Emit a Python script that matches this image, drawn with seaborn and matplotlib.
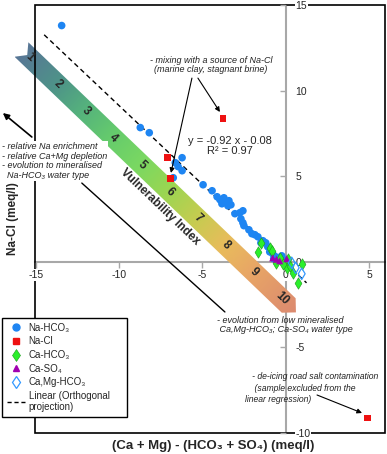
import numpy as np
import matplotlib.pyplot as plt
import seaborn as sns
from matplotlib.colors import LinearSegmentedColormap
from matplotlib.lines import Line2D
from matplotlib.patches import Polygon, Rectangle

# Samples by water type (meq/l)
# x = (Ca + Mg) - (HCO3 + SO4), y = Na - Cl
na_hco3_x = [-13.45, -8.73, -8.19, -6.22, -6.63, -6.46, -6.22, -6.75, -4.96, -4.42,
             -4.12, -3.95, -3.71, -3.59, -3.41, -3.29, -3.83, -3.47, -3.05, -2.75,
             -2.57, -2.69, -2.57, -2.51, -2.21, -2.03, -1.85, -1.67, -1.37, -1.20,
             -1.49, -1.08, -0.96, -0.78, -0.60, -0.42, -0.24, -0.12, -0.72]
na_hco3_y = [13.80, 7.84, 7.54, 6.08, 5.79, 5.56, 5.32, 4.91, 4.50, 4.15,
             3.80, 3.63, 3.74, 3.51, 3.57, 3.33, 3.39, 3.27, 2.81, 2.87,
             2.98, 2.51, 2.28, 2.11, 1.87, 1.64, 1.58, 1.46, 1.23, 1.11,
             1.11, 0.88, 0.58, 0.47, 0.29, 0.18, 0.35, 0.12, 0.18]

na_cl_x = [-3.77, -7.11, -6.93, 4.90]
na_cl_y = [8.36, 6.08, 4.85, -9.12]

ca_hco3_x = [-1.67, -1.49, -0.96, -0.84, -0.60, -0.36, 0.06, 0.24, 0.42, 0.96, 0.72, 0.12, -0.18]
ca_hco3_y = [0.58, 1.11, 0.82, 0.64, -0.06, 0.23, -0.35, -0.23, -0.64, -0.12, -1.23, 0.18, -0.12]

ca_so4_x = [-0.78, -0.36, 0.06, -0.55]
ca_so4_y = [0.23, 0.06, 0.18, 0.15]

camg_hco3_x = [0.96, 0.60, 0.36]
camg_hco3_y = [-0.70, -0.35, -0.06]

# orthogonal regression
fit_slope = -0.92
fit_intercept = -0.08
fit_x = np.array([-14.5, 1.25])
fit_y = fit_slope * fit_x + fit_intercept

# vulnerability index arrow
index_labels = [str(i) for i in range(1, 11)]
index_first = (-15.36, 11.93)   # where "1" sits
index_last = (-0.24, -2.16)     # where "10" sits
index_stops = [0.0, 0.13, 0.23, 0.33, 0.43, 0.53, 0.64, 0.74, 0.84, 1.0]
index_colors = ['#587696', '#4e9488', '#56b47c', '#66cc6c', '#7ad862',
                '#9ad652', '#c6cc50', '#e8bc5c', '#e8a666', '#dc8a70']

sns.set_style('white')
plt.rcParams['font.family'] = ['Liberation Sans', 'DejaVu Sans']
plt.rcParams['axes.unicode_minus'] = False

fig = plt.figure(figsize=(3.87, 4.54), dpi=100)
ax = fig.add_axes([35 / 387, 21 / 454, 350 / 387, 428 / 454])
xlim, ylim = (-15.05, 5.96), (-10, 15)
ax.set_xlim(*xlim)
ax.set_ylim(*ylim)
ax.set_autoscale_on(False)

# axes through the origin, outer black frame
ax.spines['left'].set_position(('data', 0))
ax.spines['right'].set_position(('data', 0))
ax.spines['bottom'].set_position(('data', 0))
ax.spines['top'].set_visible(False)
ax.spines['right'].set_visible(False)
for side in ['left', 'bottom']:
    ax.spines[side].set_color('#a8a8a8')
    ax.spines[side].set_linewidth(1.5)
    ax.spines[side].set_zorder(0.5)
ax.add_patch(Rectangle((0, 0), 1, 1, transform=ax.transAxes, fill=False,
                       edgecolor='black', linewidth=1.2, zorder=1.0, clip_on=False))

ax.set_xticks([-15, -10, -5, 0, 5])
ax.set_yticks([-10, -5, 0, 5, 10, 15])
ax.tick_params(axis='x', bottom=True, direction='out', length=4, width=1,
               color='#a8a8a8', labelsize=7.5, pad=2)
ax.tick_params(axis='y', left=True, right=False, labelleft=False, labelright=True,
               direction='out', length=4, width=1, color='#a8a8a8', labelsize=7.5, pad=3)
ax.xaxis.set_zorder(1.2)
ax.yaxis.set_zorder(1.2)
for lab in ax.xaxis.get_ticklabels() + ax.yaxis.get_ticklabels():
    lab.set_bbox(dict(facecolor='white', edgecolor='none', pad=0.5))


def draw_index_band(ax, p_first, p_last, half_width=10):
    to_px = ax.transData.transform
    to_data = ax.transData.inverted().transform
    a, b = to_px(p_first), to_px(p_last)
    step = (b - a) / 9
    u = step / np.linalg.norm(step)
    n = np.array([-u[1], u[0]])
    tail = a - 0.3 * step
    end = b + 0.25 * step
    tip = end + 10 * u
    notch = tail + 8 * u
    verts_px = np.array([tail + half_width * n, end + half_width * n, tip,
                         end - half_width * n, tail - half_width * n, notch])
    verts = to_data(verts_px)
    x0, y0 = verts.min(axis=0)
    x1, y1 = verts.max(axis=0)
    gx, gy = np.meshgrid(np.linspace(x0, x1, 300), np.linspace(y0, y1, 300))
    pts = to_px(np.column_stack([gx.ravel(), gy.ravel()]))
    t = ((pts - tail) @ u) / np.dot(tip - tail, u)
    t = np.clip(t, 0, 1).reshape(gx.shape)
    cmap = LinearSegmentedColormap.from_list('vuln', list(zip(index_stops, index_colors)))
    im = ax.imshow(cmap(t), extent=[x0, x1, y0, y1], origin='lower', aspect='auto',
                   interpolation='bilinear', zorder=0.8)
    im.set_clip_path(Polygon(verts, closed=True, transform=ax.transData))
    im.set_clip_box(ax.figure.bbox)

    angle = np.degrees(np.arctan2(u[1], u[0]))
    for k, lab in enumerate(index_labels):
        pos = to_data(a + k * step)
        ax.text(pos[0], pos[1], lab, rotation=angle, rotation_mode='anchor',
                ha='center', va='center', fontsize=8.5, fontweight='bold', zorder=1.1,
                clip_on=False)
    return angle


angle = draw_index_band(ax, index_first, index_last)
ax.text(-7.55, 3.20, 'Vulnerability Index', rotation=angle, rotation_mode='anchor',
        ha='center', va='center', fontsize=8.5, fontweight='bold', zorder=2)

# regression line and samples
sns.lineplot(x=fit_x, y=fit_y, ax=ax, color='black', linewidth=1,
             linestyle=(0, (3.5, 2.5)), zorder=2)
sns.scatterplot(x=na_hco3_x, y=na_hco3_y, ax=ax, marker='o', s=30,
                color='#1e85f2', edgecolor='none', zorder=3)
sns.scatterplot(x=na_cl_x, y=na_cl_y, ax=ax, marker='s', s=24,
                color='#ee1111', edgecolor='none', zorder=3)
sns.scatterplot(x=ca_hco3_x, y=ca_hco3_y, ax=ax, marker='d', s=34,
                color='#2bef2b', edgecolor='#1a9a1a', linewidth=0.4, zorder=3.2)
sns.scatterplot(x=ca_so4_x, y=ca_so4_y, ax=ax, marker='^', s=26,
                color='#a000b0', edgecolor='none', zorder=3.3)
sns.scatterplot(x=camg_hco3_x, y=camg_hco3_y, ax=ax, marker='d', s=34,
                facecolors='none', edgecolor='#3399ff', linewidth=0.9, zorder=3.3)

# annotations
note = dict(fontsize=6.5, style='italic', color='#222222')
arrow = dict(arrowstyle='-|>', color='black', lw=0.8, mutation_scale=7,
             shrinkA=0, shrinkB=0)

ax.text(-17.04, 7.0, '- relative Na enrichment\n- relative Ca+Mg depletion\n'
        '- evolution to mineralised\n  Na-HCO\u2083 water type',
        ha='left', va='top', linespacing=1.1, zorder=4,
        bbox=dict(facecolor='white', edgecolor='none', pad=1), **note)
ax.annotate('', xy=(-16.98, 8.69), xytext=(-15.24, 7.29), annotation_clip=False,
            arrowprops=dict(arrow, lw=1.2, mutation_scale=9))

ax.text(-4.49, 12.02, '- mixing with a source of Na-Cl\n(marine clay, stagnant brine)',
        ha='center', va='top', multialignment='center', linespacing=1.05, **note)
ax.annotate('', xy=(-6.89, 5.19), xytext=(-5.63, 10.73), arrowprops=arrow)
ax.annotate('', xy=(-3.95, 8.75), xytext=(-5.27, 10.73), arrowprops=arrow)

ax.text(-3.35, 6.76, 'y = -0.92 x - 0.08\nR\u00b2 = 0.97', ha='center', va='center',
        multialignment='center', linespacing=1.0, fontsize=8)

ax.annotate('', xy=(-3.65, -2.93), xytext=(-12.24, 4.60),
            arrowprops=dict(arrowstyle='-', color='black', lw=1.0, shrinkA=0, shrinkB=0))
ax.text(-4.13, -3.17, '- evolution from low mineralised\n Ca,Mg-HCO\u2083; Ca-SO\u2084 water type',
        ha='left', va='top', linespacing=1.05, **note)

ax.text(-2.45, -6.45, '   - de-icing road salt contamination\n    (sample excluded from the\n'
        'linear regression)', ha='left', va='top', linespacing=1.35,
        **dict(note, fontsize=6.2))
ax.annotate('', xy=(4.58, -8.83), xytext=(1.88, -7.78), arrowprops=arrow)

# axis labels
ax.set_xlabel('(Ca + Mg) - (HCO\u2083 + SO\u2084) (meq/l)', fontsize=9.5,
              fontweight='bold', va='center')
ax.xaxis.set_label_coords(0.51, -0.031)
ax.set_ylabel('Na-Cl (meq/l)', fontsize=8.5, fontweight='bold', va='center')
ax.yaxis.set_label_coords(-0.063, 0.501)

# legend
handles = [
    Line2D([], [], ls='', marker='o', color='#1e85f2', markersize=5, label='Na-HCO\u2083'),
    Line2D([], [], ls='', marker='s', color='#ee1111', markersize=5, label='Na-Cl'),
    Line2D([], [], ls='', marker='d', markerfacecolor='#2bef2b', markeredgecolor='#1a9a1a',
           markeredgewidth=0.4, markersize=6, label='Ca-HCO\u2083'),
    Line2D([], [], ls='', marker='^', color='#a000b0', markersize=5, label='Ca-SO\u2084'),
    Line2D([], [], ls='', marker='d', markerfacecolor='none', markeredgecolor='#3399ff',
           markeredgewidth=0.9, markersize=6, label='Ca,Mg-HCO\u2083'),
    Line2D([], [], color='black', lw=1, ls=(0, (3, 2)), label='Linear (Orthogonal\nprojection)'),
]
ax.legend(handles=handles, loc='upper left', mode='expand',
          bbox_to_anchor=(2 / 387, 38 / 454, 125 / 387, 98 / 454),
          bbox_transform=fig.transFigure, fontsize=7, frameon=True, fancybox=False,
          edgecolor='black', framealpha=1, borderpad=0.5, labelspacing=0.37,
          handlelength=1.9, handletextpad=0.35, borderaxespad=0)

ax.set_xlim(*xlim)
ax.set_ylim(*ylim)
fig.savefig('out.png', dpi=100)
